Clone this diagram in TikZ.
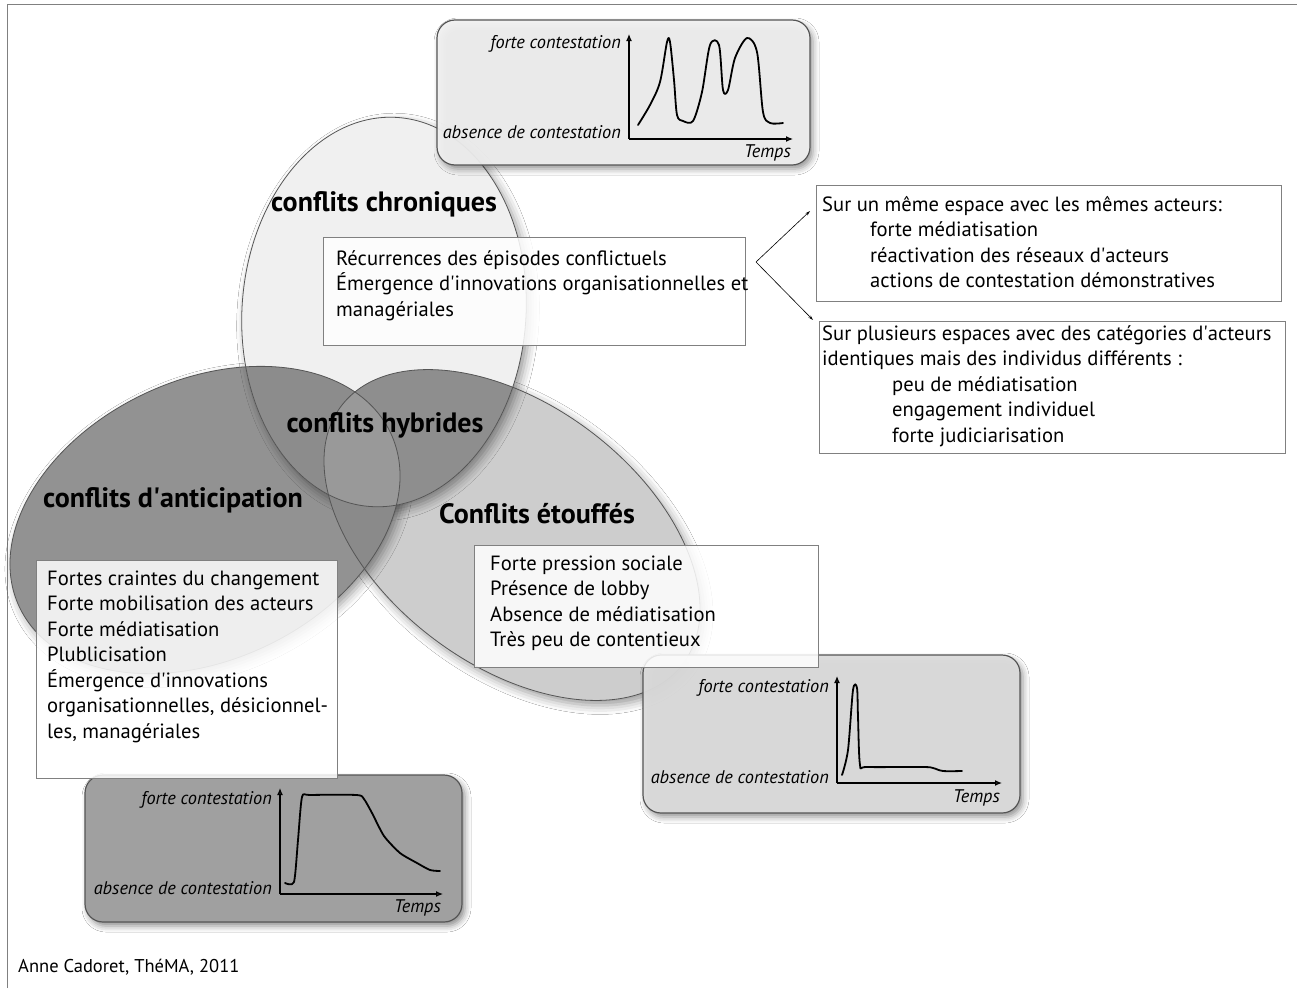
\documentclass[tikz,border=0pt]{standalone}
\usepackage{fontspec}
\setmainfont{PT Sans}
\usetikzlibrary{arrows.meta,shadows.blur,calc}
\definecolor{chronC}{HTML}{F0F0F0}
\definecolor{anticC}{HTML}{929292}
\definecolor{etoufC}{HTML}{CDCDCD}
\definecolor{ovCA}{HTML}{8C8C8C}
\definecolor{ovCE}{HTML}{8E8E8E}
\definecolor{ovAE}{HTML}{8A8A8A}
\definecolor{ovAll}{HTML}{999999}
\definecolor{edgeC}{HTML}{555555}
\definecolor{g1C}{HTML}{F2F2F2}
\definecolor{g2C}{HTML}{DCDCDC}
\definecolor{g3C}{HTML}{A0A0A0}
\newcommand\ap{\textquotesingle}
\begin{document}
\begin{tikzpicture}[x=1pt,y=-1pt,
  chron/.style={rotate around={-4:(384,312)}},
  antic/.style={rotate around={25:(205,520)}},
  etouf/.style={rotate around={-37:(512,535)}},
  ring/.style={draw=edgeC, line width=0.8pt},
  graphbox/.style={draw=edgeC, line width=1.2pt, rounded corners=18pt, inner sep=0pt,
     blur shadow={shadow xshift=3pt, shadow yshift=-4pt, shadow blur radius=6pt, shadow opacity=45}},
  textbox/.style={draw=gray, line width=0.7pt, fill=white, fill opacity=0.85, text opacity=1, inner sep=0pt, anchor=north west},
  body/.style={font=\fontsize{20.6}{25.5}\selectfont, align=left, anchor=base west, inner sep=0pt},
  title/.style={font=\fontsize{28}{32}\selectfont\bfseries, inner sep=0pt},
  glab/.style={font=\fontsize{18.3}{20}\selectfont\itshape, inner sep=0pt, anchor=east},
  axis/.style={line width=1.2pt, -{Latex[length=7pt,width=6pt]}},
  curve/.style={line width=1.8pt, line join=round, line cap=round},
  conn/.style={line width=0.6pt, -{Stealth[length=5pt,width=3pt]}}
]
\useasboundingbox (0,0) rectangle (1297,988);
\fill[white] (0,0) rectangle (1297,988);
\draw[gray, line width=0.8pt] (7,988) -- (7,4) -- (1297,4);

% ellipses
\fill[etouf, etoufC, blur shadow={shadow xshift=4pt, shadow yshift=-5pt, shadow blur radius=9pt, shadow opacity=40}] (512,535) ellipse [x radius=214, y radius=130];
\fill[antic, anticC, blur shadow={shadow xshift=4pt, shadow yshift=-5pt, shadow blur radius=9pt, shadow opacity=40}] (205,520) ellipse [x radius=205, y radius=140];
\fill[chron, chronC, blur shadow={shadow xshift=4pt, shadow yshift=-5pt, shadow blur radius=9pt, shadow opacity=40}] (384,312) ellipse [x radius=142, y radius=195];
\begin{scope}
  \clip[chron] (384,312) ellipse [x radius=142, y radius=195];
  \fill[antic, ovCA] (205,520) ellipse [x radius=205, y radius=140];
  \fill[etouf, ovCE] (512,535) ellipse [x radius=214, y radius=130];
\end{scope}
\begin{scope}
  \clip[antic] (205,520) ellipse [x radius=205, y radius=140];
  \fill[etouf, ovAE] (512,535) ellipse [x radius=214, y radius=130];
  \clip[etouf] (512,535) ellipse [x radius=214, y radius=130];
  \fill[chron, ovAll] (384,312) ellipse [x radius=142, y radius=195];
\end{scope}
\draw[ring, etouf] (512,535) ellipse [x radius=214, y radius=130];
\draw[ring, antic] (205,520) ellipse [x radius=205, y radius=140];
\draw[ring, chron] (384,312) ellipse [x radius=142, y radius=195];

% titles
\node[title] (tchron) at (384,204) {conflits chroniques};
\node[title] (thyb) at (385,425) {conflits hybrides};
\node[title] (tantic) at (173,500) {conflits d\ap anticipation};
\node[title] (tetouf) at (537,514) {Conflits étouffés};

% graph boxes
\node[graphbox, fill=g1C, fill opacity=0.92, minimum width=373pt, minimum height=145pt] (g1) at (623.5,92.5) {};
\node[graphbox, fill=g2C, fill opacity=0.95, minimum width=377pt, minimum height=158pt] (g2) at (831.5,734) {};
\node[graphbox, fill=g3C, minimum width=377pt, minimum height=147pt] (g3) at (273.5,848.5) {};

% graph 1
\coordinate (o1) at (629,139);
\draw[axis] (o1) -- (629,34);
\draw[axis] (o1) -- (793,139);
\node[glab] (f1) at (621,44) {forte contestation};
\node[glab] (a1) at (621,132) {absence de contestation};
\node[glab] (tp1) at (791,153) {Temps};
\draw[curve] plot[smooth, tension=0.5] coordinates {(638,125) (650,105) (660,82) (667,42) (670,42) (674,80) (677,115) (683,121) (693,121) (702,92) (710,45) (719,45) (723,90) (728,90) (735,58) (747,38) (757,52) (763,112) (770,123) (783,123)};

% graph 2
\coordinate (o2) at (837,783);
\draw[axis] (o2) -- (837,676);
\draw[axis] (o2) -- (1002,783);
\node[glab] (f2) at (829,688) {forte contestation};
\node[glab] (a2) at (829,777) {absence de contestation};
\node[glab] (tp2) at (1000,798) {Temps};
\draw[curve] plot[smooth, tension=0.5] coordinates {(842,775) (848,750) (853,690) (857,688) (858,717) (860,765) (867,767) (923,767) (933,768) (943,771) (962,771)};

% graph 3
\coordinate (o3) at (280,894);
\draw[axis] (o3) -- (280,788);
\draw[axis] (o3) -- (443,894);
\node[glab] (f3) at (272,800) {forte contestation};
\node[glab] (a3) at (272,888) {absence de contestation};
\node[glab] (tp3) at (441,908) {Temps};
\draw[curve] plot[smooth, tension=0.4] coordinates {(285,883) (294,882) (298,840) (302,797) (310,795) (357,795) (364,799) (372,813) (384,836) (400,853) (417,863) (430,870) (440,871)};

% text boxes (anchor = baseline of the last line)
\node[textbox, minimum width=422pt, minimum height=108pt] (bchron) at (323,237) {};
\node[body] (xchron) at (336,316) {Récurrences des épisodes conflictuels\\Émergence d\ap innovations organisationnelles et\\managériales};

\node[textbox, minimum width=301pt, minimum height=218pt] (bantic) at (36,560) {};
\node[body] (xantic) at (47,738) {Fortes craintes du changement\\Forte mobilisation des acteurs\\Forte médiatisation\\Plublicisation\\Émergence d\ap innovations\\organisationnelles, désicionnel-\\les, managériales};

\node[textbox, minimum width=344pt, minimum height=122pt] (betouf) at (474,545) {};
\node[body] (xetouf) at (490,646.5) {Forte pression sociale\\Présence de lobby\\Absence de médiatisation\\Très peu de contentieux};

\node[textbox, minimum width=465pt, minimum height=116pt] (r1) at (816,185) {};
\node[body] (xr1) at (822,287.5) {Sur un même espace avec les mêmes acteurs:\\\hspace*{48pt}forte médiatisation\\\hspace*{48pt}réactivation des réseaux d\ap acteurs\\\hspace*{48pt}actions de contestation démonstratives};

\node[textbox, minimum width=466pt, minimum height=132pt] (r2) at (819,321) {};
\node[body] (xr2) at (822,442) {Sur plusieurs espaces avec des catégories d\ap acteurs\\identiques mais des individus différents :\\\hspace*{70pt}peu de médiatisation\\\hspace*{70pt}engagement individuel\\\hspace*{70pt}forte judiciarisation};

% connectors
\coordinate (fork) at (756,262);
\coordinate (e1) at (810,211);
\coordinate (e2) at (813,320);
\draw[conn] (fork) -- (e1);
\draw[conn] (fork) -- (e2);

% footer
\node[font=\fontsize{18.5}{21}\selectfont, anchor=west, inner sep=0pt] (foot) at (18,967) {Anne Cadoret, ThéMA, 2011};
\end{tikzpicture}
\end{document}
